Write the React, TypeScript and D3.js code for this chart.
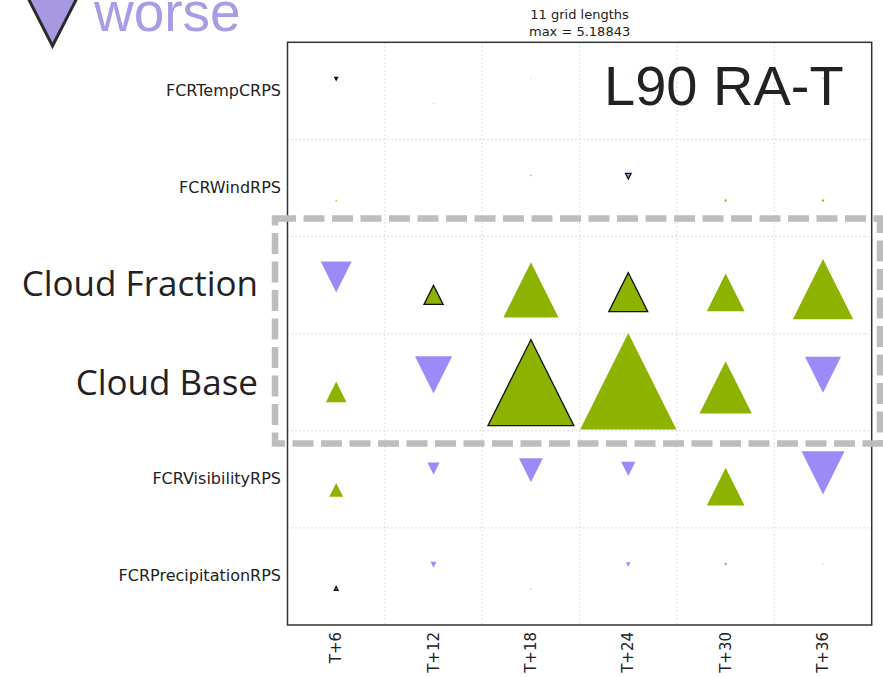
import React from "react";
import * as d3 from "d3";

const leadTimes = ["T+6", "T+12", "T+18", "T+24", "T+30", "T+36"];
const metrics = [
  "FCRTempCRPS",
  "FCRWindRPS",
  "Cloud Fraction",
  "Cloud Base",
  "FCRVisibilityRPS",
  "FCRPrecipitationRPS",
];
// signed values: positive = better (green up), negative = worse (purple down)
const tempValues = [-0.15, 0.05, -0.05, -0.04, -0.05, -0.1];
const windValues = [0.1, 0.0, -0.1, -0.3, 0.16, 0.16];
const cloudFractionValues = [-1.67, 1.03, 2.97, 2.1, 2.03, 3.25];
const cloudBaseValues = [1.11, -2.0, 4.63, 5.18843, 2.82, -1.94];
const visibilityValues = [0.75, -0.66, -1.29, -0.77, 2.03, -2.32];
const precipValues = [0.2, -0.32, 0.07, -0.25, -0.15, -0.06];
// significance (black outline)
const tempSig = [true, false, false, false, false, false];
const windSig = [false, false, false, true, false, false];
const cloudFractionSig = [false, true, false, true, false, false];
const cloudBaseSig = [false, false, true, false, false, false];
const visibilitySig = [false, false, false, false, false, false];
const precipSig = [true, false, false, false, false, false];

const allValues = [tempValues, windValues, cloudFractionValues, cloudBaseValues, visibilityValues, precipValues];
const allSig = [tempSig, windSig, cloudFractionSig, cloudBaseSig, visibilitySig, precipSig];
const maxValue = 5.18843;
const titleLines = ["11 grid lengths", "max = 5.18843"];

const GREEN = "#8db300";
const PURPLE = "#9c8bf6";

export default function App() {
  const W = 883, H = 677;
  const left = 287.5, right = 871.7, top = 42.3, bottom = 625;
  const x = d3.scaleBand().domain(leadTimes).range([left, right]);
  const y = d3.scaleBand().domain(metrics).range([top, bottom]);
  const size = d3.scaleLinear().domain([0, maxValue]).range([0, 96.3]);

  const cells: { cx: number; cy: number; v: number; sig: boolean; key: string }[] = [];
  metrics.forEach((m, i) => {
    leadTimes.forEach((t, j) => {
      const v = allValues[i][j];
      cells.push({
        cx: x(t)! + x.bandwidth() / 2,
        cy: y(m)! + y.bandwidth() / 2 + (v >= 0 ? 12.5 : -12.5),
        v,
        sig: allSig[i][j],
        key: m + t,
      });
    });
  });

  const triPath = (cx: number, cy: number, v: number) => {
    const h = size(Math.abs(v));
    if (h <= 0) return "";
    const w = h;
    if (v >= 0) {
      const ay = cy - 0.64 * h, by = cy + 0.36 * h;
      return `M${cx},${ay}L${cx - w / 2},${by}L${cx + w / 2},${by}Z`;
    }
    const ty = cy - 0.36 * h, ay = cy + 0.64 * h;
    return `M${cx - w / 2},${ty}L${cx + w / 2},${ty}L${cx},${ay}Z`;
  };

  const gridX = leadTimes.slice(1).map((t) => x(t)!);
  const gridY = metrics.slice(1).map((m) => y(m)!);
  const dejavu = "DejaVu Sans, sans-serif";
  const bigLabels = new Set(["Cloud Fraction", "Cloud Base"]);

  return (
    <svg width={W} height={H} style={{ position: "absolute", left: 0, top: 0, background: "#fff" }}>
      <rect x={0} y={0} width={W} height={H} fill="#fff" />
      {/* worse legend */}
      <path d="M26,-6L79,-6L52.5,46Z" fill="#a898e2" stroke="#2a2a2a" strokeWidth={3} strokeLinejoin="miter" />
      <text x={94} y={31} fontFamily="Liberation Sans, Arial, sans-serif" fontSize={55} fill="#a99be6">worse</text>

      {/* title */}
      {titleLines.map((t, i) => (
        <text key={t} x={(left + right) / 2} y={18.5 + i * 17.5} textAnchor="middle" fontFamily={dejavu} fontSize={13} fill="#222">{t}</text>
      ))}

      {/* grid */}
      {gridX.map((gx) => (
        <line key={"gx" + gx} x1={gx} x2={gx} y1={top} y2={bottom} stroke="#d4d4d4" strokeWidth={1} strokeDasharray="1.5,2.5" />
      ))}
      {gridY.map((gy) => (
        <line key={"gy" + gy} x1={left} x2={right} y1={gy} y2={gy} stroke="#d4d4d4" strokeWidth={1} strokeDasharray="1.5,2.5" />
      ))}

      {/* markers */}
      {cells.map((c) => (
        <path key={c.key} d={triPath(c.cx, c.cy, c.v)} fill={c.v >= 0 ? GREEN : PURPLE}
          stroke={c.sig ? "#111" : "none"} strokeWidth={c.sig ? 1.3 : 0} strokeLinejoin="miter" />
      ))}

      {/* frame */}
      <rect x={left} y={top} width={right - left} height={bottom - top} fill="none" stroke="#333" strokeWidth={1.5} />

      {/* y labels */}
      {metrics.map((m) =>
        bigLabels.has(m) ? (
          <text key={m} x={258} y={y(m)! + y.bandwidth() / 2 + (m === "Cloud Base" ? 13 : 11)} textAnchor="end"
            fontFamily="Open Sans, Noto Sans, sans-serif" fontSize={35} fill="#222">{m}</text>
        ) : (
          <text key={m} x={281} y={y(m)! + y.bandwidth() / 2 + 5} textAnchor="end" fontFamily={dejavu} fontSize={16} fill="#222">{m}</text>
        )
      )}

      {/* x labels */}
      {leadTimes.map((t) => {
        const cx = x(t)! + x.bandwidth() / 2;
        return (
          <text key={t} transform={`translate(${cx + 5},${632}) rotate(-90)`} textAnchor="end" fontFamily={dejavu} fontSize={15} fill="#222">{t}</text>
        );
      })}

      {/* L90 RA-T */}
      <text x={604} y={105} fontFamily="Liberation Sans, Arial, sans-serif" fontSize={56} fill="#222">L90 RA-T</text>

      {/* dashed highlight box */}
      <rect x={275} y={218.5} width={605} height={225} fill="none" stroke="#bdbdbd" strokeWidth={6.5} strokeDasharray="21,7.5" />
    </svg>
  );
}
